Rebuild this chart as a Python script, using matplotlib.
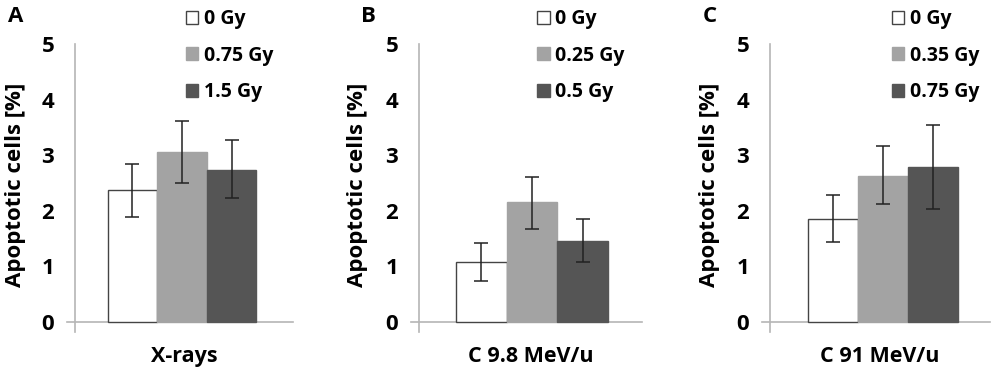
import numpy as np
import matplotlib
matplotlib.use('Agg')
import matplotlib.pyplot as plt
from matplotlib.patches import Patch

plt.rcParams['font.family'] = ['Open Sans', 'DejaVu Sans']
plt.rcParams['font.weight'] = 'bold'

panels = ['A', 'B', 'C']
groups = ['X-rays', 'C 9.8 MeV/u', 'C 91 MeV/u']
doses = [['0 Gy', '0.75 Gy', '1.5 Gy'],
         ['0 Gy', '0.25 Gy', '0.5 Gy'],
         ['0 Gy', '0.35 Gy', '0.75 Gy']]
means = [[2.37, 3.06, 2.73],
         [1.07, 2.15, 1.46],
         [1.85, 2.63, 2.78]]
err_hi = [[2.85, 3.61, 3.27],
          [1.42, 2.61, 1.86],
          [2.28, 3.17, 3.54]]
err_lo = [[1.88, 2.50, 2.23],
          [0.74, 1.68, 1.08],
          [1.43, 2.13, 2.03]]

colors = ['white', '#a3a3a3', '#555555']
edges = ['#444444', '#a3a3a3', '#555555']
spine_col = '#b5b5b5'

# axes placement (left, width) in figure fraction
lefts = [0.075, 0.419, 0.770]
widths = [0.218, 0.223, 0.220]
legend_x = [0.472, 0.494, 0.517]
letter_x = [0.008, 0.361, 0.703]

fig = plt.figure(figsize=(10, 3.75), dpi=100)

for i in range(3):
    ax = fig.add_axes([lefts[i], 0.1147, widths[i], 0.768])
    x = np.arange(3) - 1
    m = np.array(means[i])
    yerr = [m - np.array(err_lo[i]), np.array(err_hi[i]) - m]
    ax.bar(x, m, width=1.0, color=colors, edgecolor=edges, linewidth=1.0, zorder=2)
    ax.errorbar(x, m, yerr=yerr, fmt='none', ecolor='#222222', elinewidth=1.1,
                capsize=5, capthick=1.1, zorder=3)
    shift = 0.04 if i == 0 else -0.03 * i
    ax.set_xlim(-2.2 + shift, 2.2 + shift)
    ax.set_ylim(-0.18, 5)
    ax.set_yticks([0, 1, 2, 3, 4, 5])
    ax.tick_params(axis='y', length=0, pad=15, labelsize=16)
    ax.set_xticks([])
    for s in ['top', 'right', 'bottom']:
        ax.spines[s].set_visible(False)
    ax.spines['left'].set_color(spine_col)
    ax.spines['left'].set_linewidth(1.2)
    ax.plot([-0.035, 1.0], [0, 0], transform=ax.get_yaxis_transform(),
            color=spine_col, lw=1.2, clip_on=False, zorder=1)
    ax.set_xlabel(groups[i], fontsize=15.5, fontweight='bold', labelpad=10)
    ax.set_ylabel('Apoptotic cells [%]', fontsize=16, fontweight='bold')
    ax.yaxis.set_label_coords(-0.227, 0.51)

    handles = [Patch(facecolor=colors[k], edgecolor=edges[k] if k == 0 else colors[k],
                     linewidth=1.0) for k in range(3)]
    ax.legend(handles, doses[i], loc='upper left', bbox_to_anchor=(legend_x[i], 1.148),
              frameon=False, fontsize=14, handlelength=0.65, handleheight=0.65,
              handletextpad=0.3, labelspacing=0.85, borderaxespad=0)

    fig.text(letter_x[i], 0.955, panels[i], fontsize=16, fontweight='bold', va='center')

plt.savefig('out.png', dpi=100)
